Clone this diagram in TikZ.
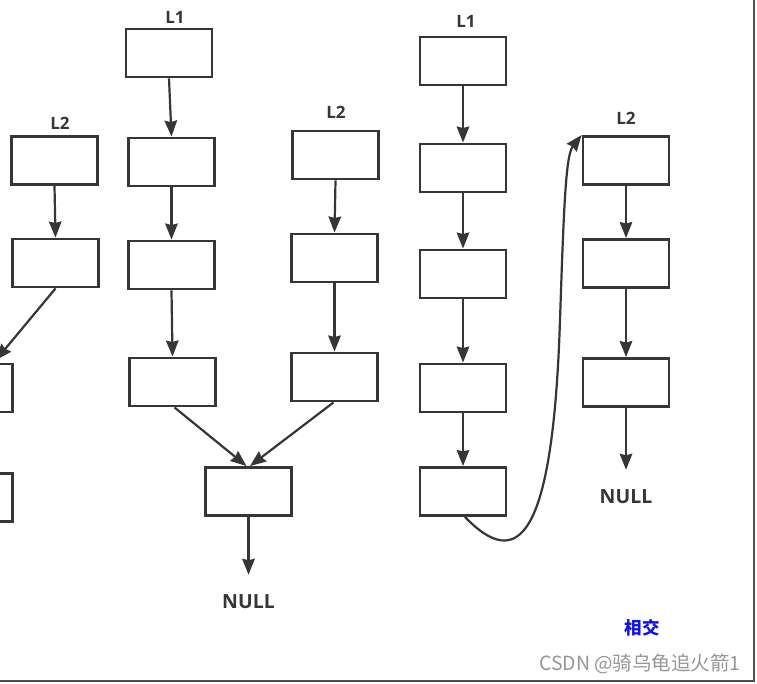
\documentclass[tikz,border=0pt]{standalone}
\usepackage{fontspec}
\setmainfont{Open Sans}
\newfontfamily\cjk{Noto Sans CJK SC}
\usetikzlibrary{arrows.meta}
\definecolor{boxc}{HTML}{363636}
\definecolor{framec}{HTML}{505050}
\definecolor{jiao}{RGB}{20,20,225}
\definecolor{wm}{RGB}{150,150,150}
\tikzset{
  lbox/.style={draw=boxc, line width=2.9pt, minimum width=86pt, minimum height=48pt, inner sep=0pt, fill=white},
  conn/.style={draw=boxc, line width=2.2pt, -{Stealth[length=16pt,width=12.5pt,inset=1.5pt]}},
  lab/.style={font=\bfseries\fontsize{17}{19}\selectfont, text=boxc, inner sep=0pt},
  nulllab/.style={font=\bfseries\fontsize{19.5}{21}\selectfont, text=boxc, inner sep=0pt},
}
\begin{document}
\begin{tikzpicture}[x=1pt,y=-1pt]
\useasboundingbox (0,0) rectangle (757,684);
\clip (0,0) rectangle (757,684);
\fill[white] (0,0) rectangle (757,684);
% frame
\draw[framec, line width=2.4pt] (-5,681) -- (754,681) -- (754,-5);
% left partial group
\node[lab] (la2) at (60,123) {L2};
\node[lbox] (a1) at (54.5,160.5) {};
\node[lbox] (a2) at (55.5,263) {};
\node[lbox] (a3) at (-30.5,388) {};
\node[lbox] (a4) at (-30.5,497.5) {};
\coordinate (a3tip) at (-4,360);
\draw[conn] (a1.south) -- (a2.north);
\draw[conn] (a2.south) -- (a3tip);
% middle group
\node[lab] (lb1) at (175,17) {L1};
\node[lbox] (b1) at (169,53) {};
\node[lbox] (b2) at (171.5,162) {};
\node[lbox] (b3) at (171.5,265) {};
\node[lbox] (b4) at (172.5,382) {};
\node[lab] (lc2) at (336,112) {L2};
\node[lbox] (c1) at (335.5,155) {};
\node[lbox] (c2) at (334.5,258) {};
\node[lbox] (c3) at (334.5,377) {};
\node[lbox] (d) at (248.5,491.5) {};
\node[nulllab] (null1) at (248.5,602) {NULL};
\draw[conn] (b1.south) -- (b2.north);
\draw[conn] (b2.south) -- (b3.north);
\draw[conn] (b3.south) -- (b4.north);
\draw[conn] (c1.south) -- (c2.north);
\draw[conn] (c2.south) -- (c3.north);
\draw[conn] ([xshift=2pt]b4.south) -- ([xshift=-2pt]d.north);
\draw[conn] ([xshift=-1pt]c3.south) -- ([xshift=1.5pt]d.north);
\draw[conn] (d.south) -- ([yshift=20pt]null1.north);
% right group
\node[lab] (le1) at (466,21) {L1};
\node[lbox] (e1) at (463,61) {};
\node[lbox] (e2) at (463,168) {};
\node[lbox] (e3) at (463,274) {};
\node[lbox] (e4) at (463,388) {};
\node[lbox] (e5) at (463,491.5) {};
\node[lab] (lf2) at (626,118) {L2};
\node[lbox] (f1) at (626,160.5) {};
\node[lbox] (f2) at (626,263.5) {};
\node[lbox] (f3) at (626,382.5) {};
\node[nulllab] (null2) at (626,497) {NULL};
\draw[conn] (e1.south) -- (e2.north);
\draw[conn] (e2.south) -- (e3.north);
\draw[conn] (e3.south) -- (e4.north);
\draw[conn] (e4.south) -- (e5.north);
\draw[conn] (f1.south) -- (f2.north);
\draw[conn] (f2.south) -- (f3.north);
\draw[conn] (f3.south) -- ([yshift=20pt]null2.north);
\draw[conn] ([xshift=2pt]e5.south) .. controls (518,572) and (553,540) .. (560,320)
   .. controls (564,200) and (566,155) .. (f1.north west);
% texts
\node[font=\cjk\bfseries\fontsize{17.5}{19}\selectfont, text=jiao, inner sep=0pt] (xj) at (642,628) {相交};
\node[font=\cjk\fontsize{19.5}{21}\selectfont, text=wm, inner sep=0pt, anchor=east] (wmark) at (741,664) {CSDN @骑乌龟追火箭1};
\end{tikzpicture}
\end{document}
